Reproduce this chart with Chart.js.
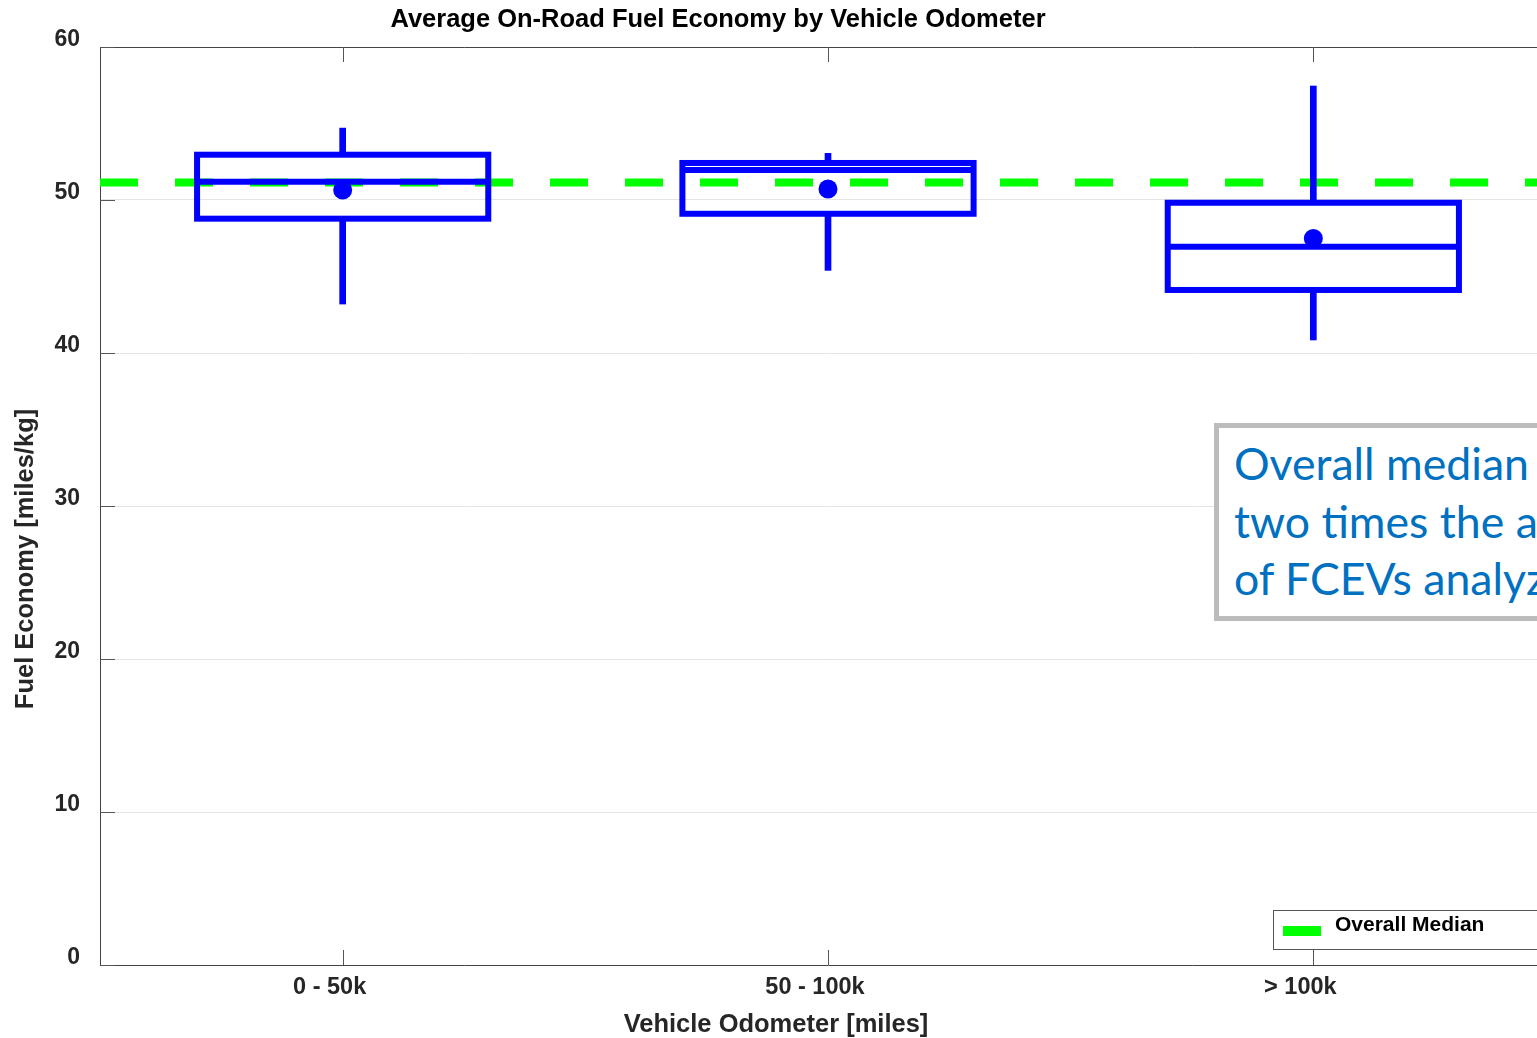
<!DOCTYPE html>
<html>
<head>
<meta charset="utf-8">
<title>Average On-Road Fuel Economy by Vehicle Odometer</title>
<script src="https://cdn.jsdelivr.net/npm/chart.js@4.4.1/dist/chart.umd.min.js"></script>
<style>
  html, body { margin: 0; padding: 0; background: #fff; overflow: hidden; width: 1537px; height: 1038px; }
  #wrap { position: absolute; left: 0; top: 0; width: 1600px; height: 1038px; }
  #note {
    position: absolute; left: 1214px; top: 423px; width: 560px; height: 198px;
    box-sizing: border-box; border: 5px solid #bcbcbc; background: #fff;
    padding: 6px 0 0 15px; font-family: Lato, "Open Sans", sans-serif; font-size: 44.6px;
    line-height: 57.5px; color: #0070c0; white-space: nowrap; overflow: hidden;
  }
</style>
</head>
<body>
<div id="wrap"><canvas id="chart" width="1600" height="1038"></canvas></div>
<div id="note">
  <div>Overall median</div>
  <div>two times the average</div>
  <div>of FCEVs analyzed</div>
</div>
<script>
// Odometer bins and per-bin fuel economy statistics [miles/kg]
const categories  = ['0 - 50k', '50 - 100k', '> 100k'];
const whiskerLow  = [43.2, 45.4, 40.85];
const q1          = [48.78, 49.1, 44.12];
const medians     = [51.2, 51.96, 46.95];
const q3          = [52.96, 52.42, 49.82];
const whiskerHigh = [54.7, 53.05, 57.45];
const means       = [50.65, 50.72, 47.49];
const overallMedian = 51.15;
const yTickValues = [0, 10, 20, 30, 40, 50, 60];

const BLUE = '#0000ff';
const GREEN = '#00ff00';
const AXIS = '#444444';
const TEXT = '#262626';
const FONT = '"Liberation Sans", Arial, sans-serif';

// Strokes box outlines and median bars centred on the values of invisible floating bars
const boxOutline = {
  id: 'boxOutline',
  afterDatasetsDraw(chart) {
    const ctx = chart.ctx;
    chart.data.datasets.forEach((ds, i) => {
      if (!ds.outline) return;
      const meta = chart.getDatasetMeta(i);
      ctx.save();
      ctx.strokeStyle = ds.outlineColor;
      ctx.lineWidth = ds.outlineWidth;
      meta.data.forEach(bar => {
        const { x, y, base, width } = bar.getProps(['x', 'y', 'base', 'width'], true);
        const left = x - width / 2;
        if (ds.outline === 'rect') {
          ctx.strokeRect(left, Math.min(y, base), width, Math.abs(base - y));
        } else {
          ctx.beginPath();
          ctx.moveTo(left, y);
          ctx.lineTo(left + width, y);
          ctx.stroke();
        }
      });
      ctx.restore();
    });
  }
};

// Inward-pointing tick marks on the left, bottom and top edges of the plot box
const innerTicks = {
  id: 'innerTicks',
  beforeDatasetsDraw(chart) {
    const { ctx, chartArea: a, scales: { x, y } } = chart;
    const len = 15;
    ctx.save();
    ctx.strokeStyle = '#555555';
    ctx.lineWidth = 1;
    ctx.beginPath();
    y.ticks.forEach((t, i) => {
      const py = Math.round(y.getPixelForTick(i)) + 0.5;
      ctx.moveTo(a.left, py); ctx.lineTo(a.left + len, py);
    });
    x.ticks.forEach((t, i) => {
      const px = Math.round(x.getPixelForTick(i)) + 0.5;
      ctx.moveTo(px, a.bottom); ctx.lineTo(px, a.bottom - len);
      ctx.moveTo(px, a.top); ctx.lineTo(px, a.top + len);
    });
    ctx.stroke();
    ctx.restore();
  }
};

// Figure title, axis titles and the in-plot legend
const figureText = {
  id: 'figureText',
  afterDraw(chart) {
    const { ctx } = chart;
    ctx.save();
    ctx.fillStyle = '#000';
    ctx.textAlign = 'center';
    ctx.textBaseline = 'alphabetic';
    ctx.font = 'bold 25.5px ' + FONT;
    ctx.fillText('Average On-Road Fuel Economy by Vehicle Odometer', 718, 27);

    ctx.fillStyle = TEXT;
    ctx.fillText('Vehicle Odometer [miles]', 776, 1032);

    ctx.save();
    ctx.translate(33, 559);
    ctx.rotate(-Math.PI / 2);
    ctx.fillText('Fuel Economy [miles/kg]', 0, 0);
    ctx.restore();

    // legend
    const ds = chart.data.datasets.find(d => d.inLegend);
    const lx = 1273.5, ly = 910.5, lh = 39;
    ctx.fillStyle = '#fff';
    ctx.fillRect(lx, ly, 400, lh);
    ctx.strokeStyle = '#555555';
    ctx.lineWidth = 1;
    ctx.strokeRect(lx, ly, 400, lh);
    ctx.fillStyle = ds.borderColor;
    ctx.fillRect(1283, 926, 38, 10);
    ctx.fillStyle = '#000';
    ctx.textAlign = 'left';
    ctx.font = 'bold 21px ' + FONT;
    ctx.fillText(ds.label, 1335, 931);
    ctx.restore();
  }
};

new Chart(document.getElementById('chart'), {
  data: {
    labels: categories,
    datasets: [
      {
        type: 'line', label: 'Mean', data: means,
        showLine: false, pointRadius: 9.5, pointBorderWidth: 0,
        pointBackgroundColor: BLUE, pointBorderColor: BLUE
      },
      {
        type: 'bar', label: 'Upper whisker', grouped: false,
        data: q3.map((v, i) => [v, whiskerHigh[i]]),
        backgroundColor: BLUE, borderWidth: 0, barThickness: 6
      },
      {
        type: 'bar', label: 'Lower whisker', grouped: false,
        data: whiskerLow.map((v, i) => [v, q1[i]]),
        backgroundColor: BLUE, borderWidth: 0, barThickness: 6
      },
      {
        type: 'bar', label: 'Interquartile range', grouped: false,
        data: q1.map((v, i) => [v, q3[i]]),
        backgroundColor: 'rgba(0,0,0,0)', borderWidth: 0,
        barPercentage: 0.6, categoryPercentage: 1,
        outline: 'rect', outlineColor: BLUE, outlineWidth: 6
      },
      {
        type: 'bar', label: 'Median', grouped: false,
        data: medians.map(v => [v, v]),
        backgroundColor: 'rgba(0,0,0,0)', borderWidth: 0,
        barPercentage: 0.6, categoryPercentage: 1,
        outline: 'line', outlineColor: BLUE, outlineWidth: 6
      },
      {
        type: 'line', label: 'Overall Median', xAxisID: 'x2', inLegend: true,
        data: [{ x: 0, y: overallMedian }, { x: 1, y: overallMedian }],
        borderColor: GREEN, backgroundColor: GREEN, borderWidth: 8,
        borderDash: [38, 37], pointRadius: 0, fill: false
      }
    ]
  },
  options: {
    responsive: false,
    animation: false,
    devicePixelRatio: 1,
    events: [],
    layout: { padding: { top: 47, left: 0, right: 44, bottom: 0 } },
    plugins: {
      legend: { display: false },
      title: { display: false },
      tooltip: { enabled: false }
    },
    scales: {
      x: {
        type: 'category',
        position: 'bottom',
        offset: true,
        grid: { display: false },
        border: { display: true, color: AXIS, width: 1 },
        ticks: {
          color: TEXT, font: { family: FONT, size: 23.5, weight: 'bold' },
          padding: 0, labelOffset: -13, maxRotation: 0, autoSkip: false
        },
        afterFit(scale) { scale.height = 73; }
      },
      xTop: {
        type: 'category',
        position: 'top',
        offset: true,
        grid: { display: false, drawTicks: false },
        border: { display: true, color: AXIS, width: 1 },
        ticks: { display: false },
        afterFit(scale) { scale.height = 0; }
      },
      x2: { type: 'linear', display: false, min: 0, max: 1 },
      y: {
        type: 'linear',
        min: yTickValues[0],
        max: yTickValues[yTickValues.length - 1],
        afterBuildTicks(scale) { scale.ticks = yTickValues.map(v => ({ value: v })); },
        grid: { color: '#e4e4e4', lineWidth: 1, drawTicks: false },
        border: { display: true, color: AXIS, width: 1 },
        ticks: {
          color: TEXT, font: { family: FONT, size: 23, weight: 'bold' },
          padding: 20, labelOffset: -7
        },
        afterFit(scale) { scale.width = 100; }
      }
    }
  },
  plugins: [innerTicks, boxOutline, figureText]
});
</script>
</body>
</html>
